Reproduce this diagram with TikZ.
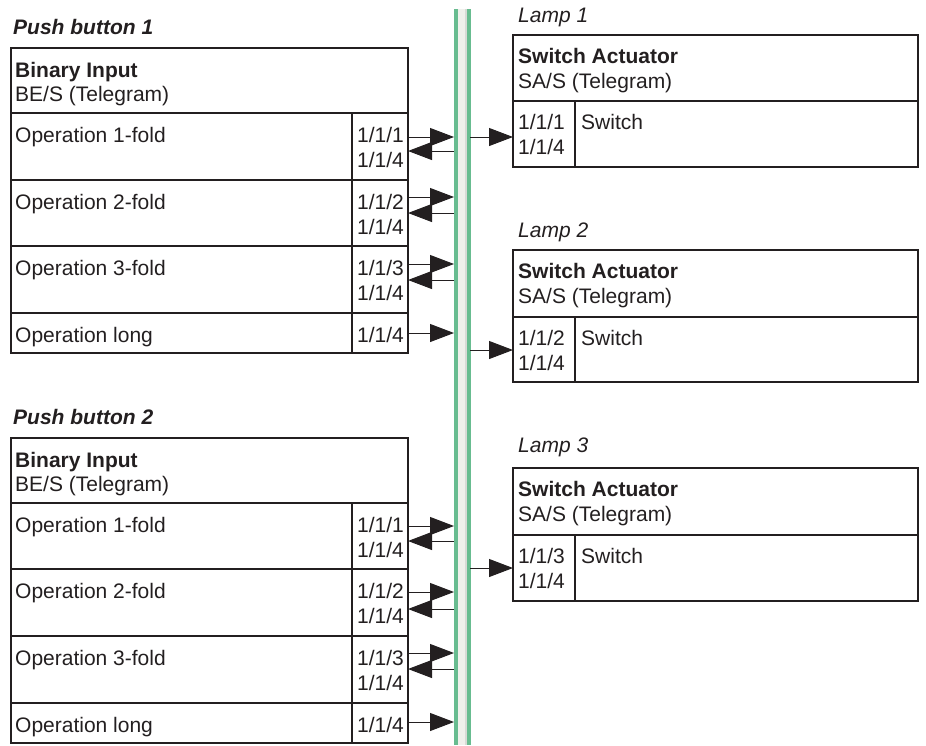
\documentclass[tikz,border=0pt]{standalone}
\usepackage{fontspec}
\setmainfont{Liberation Sans}
\usetikzlibrary{arrows.meta}
\definecolor{busgreen}{HTML}{68BC90}
\definecolor{busfill}{HTML}{F0F0EC}
\definecolor{busgray}{HTML}{D8DAD6}
\definecolor{ink}{HTML}{231F20}
\begin{document}
\begin{tikzpicture}[x=1pt,y=-1pt,
  cell/.style={draw=ink, line width=1.8pt, anchor=north west, inner sep=0pt, outer sep=0pt},
  txt/.style={anchor=base west, inner sep=0pt, text=ink, font=\fontsize{21}{25}\selectfont},
  btxt/.style={txt, font=\fontsize{21}{25}\selectfont\bfseries},
  ttl/.style={txt, font=\fontsize{21}{25}\selectfont\bfseries\itshape},
  lttl/.style={txt, font=\fontsize{21}{25}\selectfont\itshape},
  arr/.style={draw=ink, line width=1pt, -{Triangle[length=24pt,width=18pt]}}]
\useasboundingbox (0,0) rectangle (926,745);

% bus
\node[inner sep=0pt, outer sep=0pt, minimum width=16pt, minimum height=736pt, anchor=north west] (bus) at (454,9) {};
\fill[busfill] (454,9) rectangle (470,745);
\fill[busgreen] (454,9) rectangle (457.5,745);
\fill[busgray] (465,9) rectangle (466.5,745);
\fill[busgreen] (466.5,9) rectangle (470.5,745);

% ---------- Push button 1 ----------
\node[ttl] (t1) at (13,34) {Push button 1};
\node[cell, minimum width=397pt, minimum height=65pt] (p1h) at (11,48) {};
\node[btxt] (p1hb) at (15,77) {Binary Input};
\node[txt] (p1hs) at (15,101) {BE/S (Telegram)};

\node[cell, minimum width=341pt, minimum height=67pt] (p1o1) at (11,113) {};
\node[cell, minimum width=56pt, minimum height=67pt] (p1a1) at (352,113) {};
\node[cell, minimum width=341pt, minimum height=66pt] (p1o2) at (11,180) {};
\node[cell, minimum width=56pt, minimum height=66pt] (p1a2) at (352,180) {};
\node[cell, minimum width=341pt, minimum height=67pt] (p1o3) at (11,246) {};
\node[cell, minimum width=56pt, minimum height=67pt] (p1a3) at (352,246) {};
\node[cell, minimum width=341pt, minimum height=40pt] (p1o4) at (11,313) {};
\node[cell, minimum width=56pt, minimum height=40pt] (p1a4) at (352,313) {};

\node[txt] at (15,142) {Operation 1-fold};
\node[txt] at (357,142) {1/1/1};
\node[txt] at (357,167) {1/1/4};
\node[txt] at (15,209) {Operation 2-fold};
\node[txt] at (357,209) {1/1/2};
\node[txt] at (357,234) {1/1/4};
\node[txt] at (15,275) {Operation 3-fold};
\node[txt] at (357,275) {1/1/3};
\node[txt] at (357,300) {1/1/4};
\node[txt] at (15,342) {Operation long};
\node[txt] at (357,342) {1/1/4};

% ---------- Push button 2 ----------
\node[ttl] (t2) at (13,424) {Push button 2};
\node[cell, minimum width=397pt, minimum height=65pt] (p2h) at (11,438) {};
\node[btxt] at (15,467) {Binary Input};
\node[txt] at (15,491) {BE/S (Telegram)};

\node[cell, minimum width=341pt, minimum height=66pt] (p2o1) at (11,503) {};
\node[cell, minimum width=56pt, minimum height=66pt] (p2a1) at (352,503) {};
\node[cell, minimum width=341pt, minimum height=67pt] (p2o2) at (11,569) {};
\node[cell, minimum width=56pt, minimum height=67pt] (p2a2) at (352,569) {};
\node[cell, minimum width=341pt, minimum height=67pt] (p2o3) at (11,636) {};
\node[cell, minimum width=56pt, minimum height=67pt] (p2a3) at (352,636) {};
\node[cell, minimum width=341pt, minimum height=40pt] (p2o4) at (11,703) {};
\node[cell, minimum width=56pt, minimum height=40pt] (p2a4) at (352,703) {};

\node[txt] at (15,532) {Operation 1-fold};
\node[txt] at (357,532) {1/1/1};
\node[txt] at (357,557) {1/1/4};
\node[txt] at (15,598) {Operation 2-fold};
\node[txt] at (357,598) {1/1/2};
\node[txt] at (357,623) {1/1/4};
\node[txt] at (15,665) {Operation 3-fold};
\node[txt] at (357,665) {1/1/3};
\node[txt] at (357,690) {1/1/4};
\node[txt] at (15,732) {Operation long};
\node[txt] at (357,732) {1/1/4};

% ---------- Lamps ----------
\node[lttl] at (518,22) {Lamp 1};
\node[cell, minimum width=405pt, minimum height=66pt] (l1h) at (513,35) {};
\node[btxt] at (518,63) {Switch Actuator};
\node[txt] at (518,88) {SA/S (Telegram)};
\node[cell, minimum width=62pt, minimum height=66pt] (l1a) at (513,101) {};
\node[cell, minimum width=343pt, minimum height=66pt] (l1s) at (575,101) {};
\node[txt] at (518,129) {1/1/1};
\node[txt] at (518,154) {1/1/4};
\node[txt] at (581,129) {Switch};

\node[lttl] at (518,237) {Lamp 2};
\node[cell, minimum width=405pt, minimum height=67pt] (l2h) at (513,250) {};
\node[btxt] at (518,278) {Switch Actuator};
\node[txt] at (518,303) {SA/S (Telegram)};
\node[cell, minimum width=62pt, minimum height=65pt] (l2a) at (513,317) {};
\node[cell, minimum width=343pt, minimum height=65pt] (l2s) at (575,317) {};
\node[txt] at (518,345) {1/1/2};
\node[txt] at (518,370) {1/1/4};
\node[txt] at (581,345) {Switch};

\node[lttl] at (518,452) {Lamp 3};
\node[cell, minimum width=405pt, minimum height=67pt] (l3h) at (513,468) {};
\node[btxt] at (518,496) {Switch Actuator};
\node[txt] at (518,521) {SA/S (Telegram)};
\node[cell, minimum width=62pt, minimum height=66pt] (l3a) at (513,535) {};
\node[cell, minimum width=343pt, minimum height=66pt] (l3s) at (575,535) {};
\node[txt] at (518,563) {1/1/3};
\node[txt] at (518,588) {1/1/4};
\node[txt] at (581,563) {Switch};

% ---------- connector levels ----------
\foreach \n/\y in {a/137,b/151,c/197,d/213,e/264,f/280,g/333,
                   h/526,i/541,j/592,k/609,l/653,m/669,n/722,
                   q/137,r/350,s/568}
  \coordinate (y\n) at (0,\y);

% push button 1
\draw[arr] (p1a1.east |- ya) -- (bus.west |- ya);
\draw[arr] (bus.west |- yb) -- (p1a1.east |- yb);
\draw[arr] (p1a2.east |- yc) -- (bus.west |- yc);
\draw[arr] (bus.west |- yd) -- (p1a2.east |- yd);
\draw[arr] (p1a3.east |- ye) -- (bus.west |- ye);
\draw[arr] (bus.west |- yf) -- (p1a3.east |- yf);
\draw[arr] (p1a4.east |- yg) -- (bus.west |- yg);
% push button 2
\draw[arr] (p2a1.east |- yh) -- (bus.west |- yh);
\draw[arr] (bus.west |- yi) -- (p2a1.east |- yi);
\draw[arr] (p2a2.east |- yj) -- (bus.west |- yj);
\draw[arr] (bus.west |- yk) -- (p2a2.east |- yk);
\draw[arr] (p2a3.east |- yl) -- (bus.west |- yl);
\draw[arr] (bus.west |- ym) -- (p2a3.east |- ym);
\draw[arr] (p2a4.east |- yn) -- (bus.west |- yn);
% lamps
\draw[arr] (bus.east |- yq) -- (l1a.west |- yq);
\draw[arr] (bus.east |- yr) -- (l2a.west |- yr);
\draw[arr] (bus.east |- ys) -- (l3a.west |- ys);
\end{tikzpicture}
\end{document}
